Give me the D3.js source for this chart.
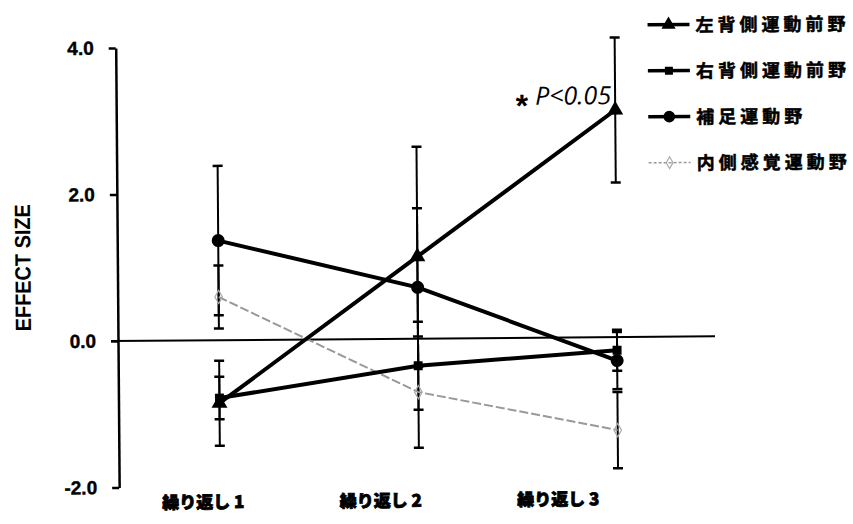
<!DOCTYPE html>
<html>
<head>
<meta charset="utf-8">
<script src="https://cdn.jsdelivr.net/npm/d3@7"></script>
<style>
  html, body { margin: 0; padding: 0; background: #fff; }
  svg { display: block; }
</style>
</head>
<body>
<div id="chart"></div>
<script>
// Repetition conditions on the x axis
const categories = ['繰り返し 1', '繰り返し 2', '繰り返し 3'];

// Effect size per region (mean) and error bar half-length
const leftPMd = [-0.86, 1.12, 3.10];
const leftPMdErr = [0.58, 1.50, 0.99];

const rightPMd = [-0.79, -0.37, -0.18];
const rightPMdErr = [0.29, 0.60, 0.28];

const sma = [1.36, 0.70, -0.32];
const smaErr = [1.02, 1.08, 0.39];

const medialSM = [0.59, -0.73, -1.27];
const medialSMErr = [0.43, 0.76, 0.52];

const seriesNames = ['左背側運動前野', '右背側運動前野', '補足運動野', '内側感覚運動野'];

const yTickValues = [-2, 0, 2, 4];
const yTickLabels = ['-2.0', '0.0', '2.0', '4.0'];
const yTitle = 'EFFECT SIZE';
const sigLabel = 'P<0.05';

const W = 853, H = 524;

const svg = d3.select('#chart').append('svg')
  .attr('width', W).attr('height', H)
  .style('background', '#fff');

// The whole figure sits slightly tilted
const g = svg.append('g').attr('transform', 'rotate(-0.45,118,341)');

const x = d3.scalePoint().domain(categories).range([219, 617]);
const xLabel = d3.scalePoint().domain(categories).range([202, 557]);
const y = d3.scaleLinear().domain([-2, 4]).range([487.5, 48]);

// Y axis
const yAxis = g.append('g')
  .attr('transform', 'translate(118,0)')
  .call(d3.axisLeft(y)
    .tickValues(yTickValues)
    .tickFormat((d, i) => yTickLabels[i])
    .tickSize(7)
    .tickSizeOuter(0)
    .tickPadding(15));
yAxis.select('.domain').attr('stroke', '#000').attr('stroke-width', 2.5);
yAxis.selectAll('.tick line').attr('stroke', '#000').attr('stroke-width', 2.5);
yAxis.selectAll('.tick text')
  .attr('fill', '#000')
  .attr('stroke', '#000').attr('stroke-width', 0.4)
  .style('font-family', '"Liberation Sans", Arial, sans-serif')
  .style('font-size', '19px')
  .style('font-weight', 'bold');

// Y axis title
g.append('text')
  .attr('transform', 'translate(31,267) rotate(-90)')
  .attr('text-anchor', 'middle')
  .attr('textLength', 127)
  .attr('lengthAdjust', 'spacingAndGlyphs')
  .style('font-family', '"Liberation Sans", Arial, sans-serif')
  .style('font-size', '22px')
  .style('font-weight', 'bold')
  .text(yTitle);

// Zero reference line
g.append('line')
  .attr('x1', 111).attr('x2', 715)
  .attr('y1', y(0)).attr('y2', y(0))
  .attr('stroke', '#000').attr('stroke-width', 2);

// X category labels
g.selectAll('.xlab').data(categories).enter().append('text')
  .attr('class', 'xlab')
  .attr('x', d => xLabel(d))
  .attr('y', 509)
  .attr('text-anchor', 'middle')
  .attr('stroke', '#000').attr('stroke-width', 0.8)
  .style('font-family', '"Noto Sans CJK JP", sans-serif')
  .style('font-size', '17px')
  .style('font-weight', '900')
  .text(d => d);

const series = [
  { name: seriesNames[0], values: leftPMd, errs: leftPMdErr, marker: 'triangle', kind: 'solid' },
  { name: seriesNames[1], values: rightPMd, errs: rightPMdErr, marker: 'square', kind: 'solid' },
  { name: seriesNames[2], values: sma, errs: smaErr, marker: 'circle', kind: 'solid' },
  { name: seriesNames[3], values: medialSM, errs: medialSMErr, marker: 'open', kind: 'dashed' }
];

// Error bars
const capHalf = 5;
series.forEach(s => {
  const eg = g.append('g');
  s.values.forEach((v, i) => {
    const cx = x(categories[i]);
    const top = y(v + s.errs[i]), bot = y(v - s.errs[i]);
    eg.append('line').attr('x1', cx).attr('x2', cx).attr('y1', top).attr('y2', bot)
      .attr('stroke', '#000').attr('stroke-width', 2);
    [top, bot].forEach(yy => {
      eg.append('line').attr('x1', cx - capHalf).attr('x2', cx + capHalf)
        .attr('y1', yy).attr('y2', yy)
        .attr('stroke', '#000').attr('stroke-width', 2.5);
    });
  });
});

const line = d3.line()
  .x((d, i) => x(categories[i]))
  .y(d => y(d));

function drawMarker(sel, type, cx, cy, scale) {
  const k = scale || 1;
  if (type === 'triangle') {
    sel.append('path')
      .attr('d', d3.symbol().type(d3.symbolTriangle).size(110 * k)())
      .attr('transform', `translate(${cx},${cy})`)
      .attr('fill', '#000');
  } else if (type === 'square') {
    sel.append('path')
      .attr('d', d3.symbol().type(d3.symbolSquare).size(80 * k)())
      .attr('transform', `translate(${cx},${cy})`)
      .attr('fill', '#000');
  } else if (type === 'circle') {
    sel.append('circle').attr('cx', cx).attr('cy', cy).attr('r', 6.5 * Math.sqrt(k))
      .attr('fill', '#000');
  } else {
    sel.append('path')
      .attr('d', d3.symbol().type(d3.symbolDiamond).size(50 * k)())
      .attr('transform', `translate(${cx},${cy})`)
      .attr('fill', 'none').attr('stroke', '#aaa').attr('stroke-width', 1.2);
  }
}

// Series lines (dashed one underneath)
[series[3], series[0], series[1], series[2]].forEach(s => {
  g.append('path')
    .datum(s.values)
    .attr('d', line)
    .attr('fill', 'none')
    .attr('stroke', s.kind === 'dashed' ? '#999' : '#000')
    .attr('stroke-width', s.kind === 'dashed' ? 2 : 4)
    .attr('stroke-dasharray', s.kind === 'dashed' ? '9,3' : null);
});

// Markers
series.forEach(s => {
  s.values.forEach((v, i) => drawMarker(g, s.marker, x(categories[i]), y(v)));
});

// Significance note next to the last left PMd point
const sx = x(categories[2]) - 4;
const sy = y(leftPMd[2]) - 6;
g.append('text')
  .attr('x', sx).attr('y', sy)
  .attr('text-anchor', 'end')
  .style('font-family', '"Open Sans", sans-serif')
  .style('font-size', '25px')
  .style('font-style', 'italic')
  .text(sigLabel);
g.append('text')
  .attr('x', sx - 83).attr('y', sy + 12)
  .attr('text-anchor', 'end')
  .style('font-family', '"Liberation Sans", Arial, sans-serif')
  .style('font-size', '32px')
  .style('font-weight', 'bold')
  .text('*');

// Legend
const legend = g.append('g');
series.forEach((s, i) => {
  const ly = 29 + i * 46;
  const row = legend.append('g');
  row.append('line')
    .attr('x1', 650).attr('x2', 692).attr('y1', ly).attr('y2', ly)
    .attr('stroke', s.kind === 'dashed' ? '#9a9a9a' : '#000')
    .attr('stroke-width', s.kind === 'dashed' ? 1.5 : 3.5)
    .attr('stroke-dasharray', s.kind === 'dashed' ? '3,2' : null);
  drawMarker(row, s.marker, 671, ly, 0.8);
  row.append('text')
    .attr('x', 698).attr('y', ly + 7)
    .attr('stroke', '#000').attr('stroke-width', 0.5)
    .style('font-family', '"Noto Sans CJK JP", sans-serif')
    .style('font-size', '18px')
    .style('font-weight', 'bold')
    .style('letter-spacing', '4px')
    .text(s.name);
});
</script>
</body>
</html>
